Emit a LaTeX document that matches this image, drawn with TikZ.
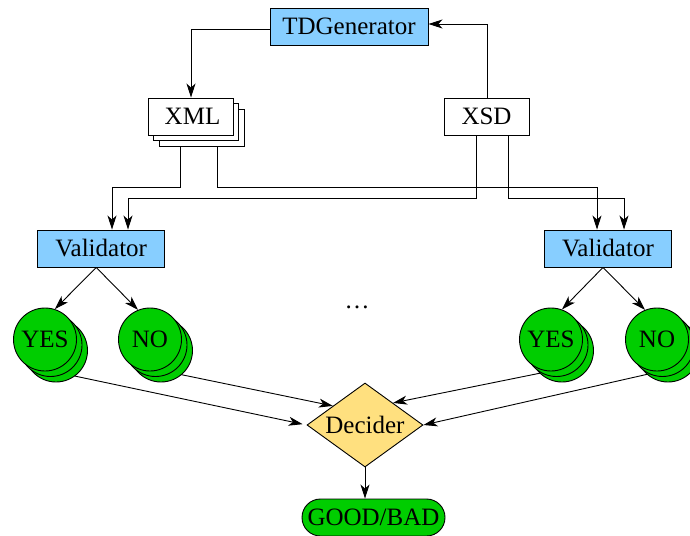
\documentclass[tikz,border=0pt]{standalone}
\usepackage{fontspec}
\setmainfont{Liberation Serif}
\usetikzlibrary{arrows.meta,shapes.geometric,shapes.misc,shadows,calc}

\definecolor{ltblue}{HTML}{87CEFF}
\definecolor{okgreen}{HTML}{00CD00}
\definecolor{gold}{HTML}{FFE07F}

\tikzset{
  base/.style={draw=black, line width=0.9pt, inner sep=0pt, font=\fontsize{25}{30}\selectfont},
  procbox/.style={base, rectangle, fill=ltblue, minimum height=37pt},
  filebox/.style={base, rectangle, fill=white, minimum width=85pt, minimum height=37pt},
  result/.style={base, circle, fill=okgreen, minimum size=63pt,
    double copy shadow={shadow xshift=5.5pt, shadow yshift=-5.5pt, fill=okgreen, draw=black, line width=0.9pt}},
  decide/.style={base, diamond, fill=gold, minimum width=116pt, minimum height=84pt, aspect=1.38},
  verdict/.style={base, rounded rectangle, fill=okgreen, minimum width=143pt, minimum height=37pt},
  arr/.style={draw=black, line width=0.9pt, -{Stealth[length=14pt, width=9pt, inset=4pt]}}
}

\begin{document}
\begin{tikzpicture}[x=1pt, y=-1pt]
  \useasboundingbox (0,0) rectangle (690,535);
  \clip (0,0) rectangle (690,535);

  % generator and its inputs/outputs
  \node[procbox, minimum width=158pt] (gen) at (349,26.5) {TDGenerator\hspace{12pt}};
  \node[filebox, double copy shadow={shadow xshift=5.5pt, shadow yshift=-5.5pt, fill=white, draw=black, line width=0.9pt}] (xml) at (190.5,116.5) {\hspace{4pt}XML};
  \node[filebox] (xsd) at (486.5,116.5) {XSD};

  % validators
  \node[procbox, minimum width=127pt] (valL) at (101.2,248.5) {Validator\hspace{9pt}};
  \node[procbox, minimum width=127pt] (valR) at (608,248.5) {Validator\hspace{9pt}};

  % validation outcomes
  \node[result] (yesL) at (45,339.5) {YES};
  \node[result] (noL)  at (150,339.5) {NO};
  \node[result] (yesR) at (551,339.5) {YES};
  \node[result] (noR)  at (657,339.5) {NO};

  \node[font=\fontsize{25}{30}\selectfont] (more) at (357,307) {…};

  % decision
  \node[decide] (dec) at (365,425) {Decider};
  \node[verdict] (out) at (373.5,517.5) {GOOD/BAD};

  % generator loop
  \draw[arr] ([yshift=-2.5pt]gen.west) -| (xml.north -| 191,0);
  \draw[arr] (xsd.north -| 487,0) |- ([yshift=2.5pt]gen.east);

  % buses from XML and XSD to the validators
  \coordinate (busA) at (0,187);
  \coordinate (busB) at (0,198);
  \coordinate (xmlA) at ($(xml.south)+(-10.5,11)$);
  \coordinate (xmlB) at ($(xml.south)+(26.5,11)$);
  \coordinate (xsdA) at ($(xsd.south)+(-10.5,0)$);
  \coordinate (xsdB) at ($(xsd.south)+(21.5,0)$);
  \coordinate (inLA) at ($(valL.north)+(10.8,0)$);
  \coordinate (inLB) at ($(valL.north)+(26.8,0)$);
  \coordinate (inRA) at ($(valR.north)+(-11,0)$);
  \coordinate (inRB) at ($(valR.north)+(16,0)$);

  \draw[arr] (xmlA) -- (xmlA |- busA) -| (inLA);
  \draw[arr] (xmlB) -- (xmlB |- busA) -| (inRA);
  \draw[arr] (xsdA) -- (xsdA |- busB) -| (inLB);
  \draw[arr] (xsdB) -- (xsdB |- busB) -| (inRB);

  % validator outcomes
  \draw[arr] ([xshift=-5pt]valL.south) -- (yesL.72);
  \draw[arr] ([xshift=-5pt]valL.south) -- (noL.112);
  \draw[arr] ([xshift=-5pt]valR.south) -- (yesR.70);
  \draw[arr] ([xshift=-5pt]valR.south) -- (noR.112);

  % outcomes into the decider (leaving the rear copy of each disc)
  \coordinate (decUL) at ($(dec.west)!0.45!(dec.north)$);
  \coordinate (decUR) at ($(dec.east)!0.52!(dec.north)$);
  \draw[arr, shorten >=4pt] ($(yesL.center)+(11,11)+(54:31.5)$) -- (dec.west);
  \draw[arr] ($(noL.center)+(11,11)+(50:31.5)$) -- (decUL);
  \draw[arr] ($(yesR.center)+(11,11)+(134:31.5)$) -- (decUR);
  \draw[arr] ($(noR.center)+(11,11)+(131:31.5)$) -- (dec.east);

  \draw[arr] (dec.south) -- (dec.south |- out.north);
\end{tikzpicture}
\end{document}
